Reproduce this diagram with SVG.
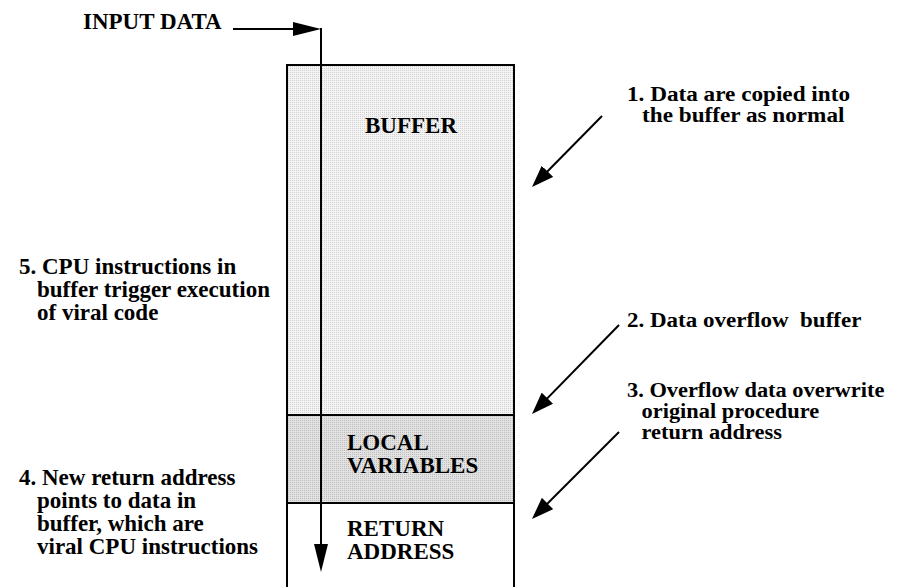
<svg xmlns="http://www.w3.org/2000/svg" width="898" height="587" viewBox="0 0 898 587" font-family="Liberation Serif, Times New Roman, DejaVu Serif, serif" font-weight="bold">
  <style>
    text { font-size: 23px; fill: #000; }
    .note { font-size: 20px; }
    .wire { stroke: #000; stroke-width: 2; fill: none; }
    .frame { stroke: #000; stroke-width: 2; }
  </style>
  <defs>
    <!-- fine halftone fills for the stack regions -->
    <pattern id="dotsLight" patternUnits="userSpaceOnUse" width="2" height="2">
      <rect width="2" height="2" fill="#f4f4f4"/>
      <rect width="1" height="1" fill="#cfcfcf"/>
    </pattern>
    <pattern id="dotsDark" patternUnits="userSpaceOnUse" width="2" height="2">
      <rect width="2" height="2" fill="#e2e2e2"/>
      <rect width="1" height="1" fill="#bcbcbc"/>
    </pattern>
    <!-- short filled head for the numbered pointers -->
    <marker id="head" markerUnits="userSpaceOnUse" viewBox="0 0 22 16" refX="18" refY="8" markerWidth="22" markerHeight="16" orient="auto">
      <path d="M0,0 L22,8 L0,16 z" fill="#000"/>
    </marker>
    <!-- longer head for the data flow line -->
    <marker id="headLong" markerUnits="userSpaceOnUse" viewBox="0 0 28 14" refX="24" refY="7" markerWidth="28" markerHeight="14" orient="auto">
      <path d="M0,0 L28,7 L0,14 z" fill="#000"/>
    </marker>
  </defs>

  <rect width="898" height="587" fill="#fff"/>

  <!-- stack frame -->
  <g id="buffer">
    <rect class="frame" x="287" y="65" width="227" height="350" fill="url(#dotsLight)"/>
    <text x="365" y="133">BUFFER</text>
  </g>
  <g id="local-variables">
    <rect class="frame" x="287" y="415" width="227" height="88" fill="url(#dotsDark)"/>
    <text x="347" y="450">LOCAL</text>
    <text x="347" y="473">VARIABLES</text>
  </g>
  <g id="return-address">
    <rect class="frame" x="287" y="503" width="227" height="100" fill="#ffffff"/>
    <text x="347" y="536">RETURN</text>
    <text x="347" y="559">ADDRESS</text>
  </g>

  <g id="input-data">
    <text x="83" y="29">INPUT DATA</text>
  </g>

  <!-- numbered notes on the right, set slightly wide -->
  <g id="note-1" transform="translate(627,0) scale(1.16,1)">
    <text class="note" x="0" y="101">1. Data are copied into</text>
    <text class="note" x="13" y="122">the buffer as normal</text>
  </g>
  <g id="note-2" transform="translate(627,0) scale(1.15,1)">
    <text class="note" x="0" y="327" xml:space="preserve">2. Data overflow  buffer</text>
  </g>
  <g id="note-3" transform="translate(627,0) scale(1.12,1)">
    <text class="note" x="0" y="397">3. Overflow data overwrite</text>
    <text class="note" x="13" y="418">original procedure</text>
    <text class="note" x="13" y="439">return address</text>
  </g>

  <!-- numbered notes on the left -->
  <g id="note-4">
    <text x="19" y="485">4. New return address</text>
    <text x="37" y="508">points to data in</text>
    <text x="37" y="531">buffer, which are</text>
    <text x="37" y="554">viral CPU instructions</text>
  </g>
  <g id="note-5">
    <text x="19" y="274">5. CPU instructions in</text>
    <text x="37" y="297">buffer trigger execution</text>
    <text x="37" y="320">of viral code</text>
  </g>

  <!-- connectors -->
  <g id="connectors">
    <path class="wire" d="M233,29 H317" marker-end="url(#headLong)"/>
    <path class="wire" d="M321,28 V568" marker-end="url(#headLong)"/>
    <path class="wire" d="M602,116 L534.8,184.2" marker-end="url(#head)"/>
    <path class="wire" d="M619,325 L534.8,411.1" marker-end="url(#head)"/>
    <path class="wire" d="M619,432 L534.8,516.2" marker-end="url(#head)"/>
  </g>
</svg>
